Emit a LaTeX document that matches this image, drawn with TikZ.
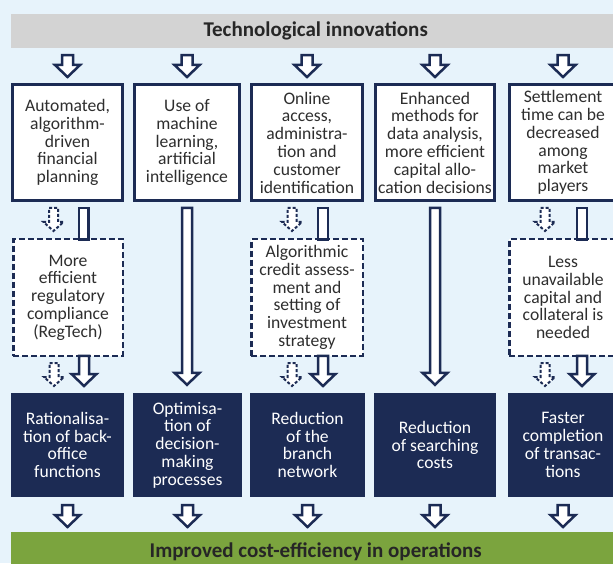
\documentclass[tikz,border=0pt]{standalone}
\usepackage{fontspec}
\setmainfont{Carlito}
\usetikzlibrary{calc}

\definecolor{bgblue}{HTML}{E7F3FB}
\definecolor{headgray}{HTML}{D3D3D3}
\definecolor{navy}{HTML}{1C2B54}
\definecolor{greenbar}{HTML}{7BA43E}
\definecolor{textgray}{HTML}{2E2E2E}

\newcommand\boxfont{\fontsize{17.6}{17.8}\selectfont}
\newcommand\barfont{\bfseries\fontsize{21}{22}\selectfont}

% block arrow: start, tip, half shaft, half head, head length
\newcommand\blockarr[6][hollow]{%
  \draw[#1] let \p1=(#2), \p2=(#3) in
    (\x1-#4pt,\y1) -- (\x1+#4pt,\y1) -- (\x1+#4pt,\y2+#6pt) -- (\x1+#5pt,\y2+#6pt)
    -- (\x1,\y2) -- (\x1-#5pt,\y2+#6pt) -- (\x1-#4pt,\y2+#6pt) -- cycle;}

\tikzset{
  whitebox/.style={draw=navy, line width=3pt, fill=white, align=center, text=textgray,
    font=\boxfont, inner xsep=0pt, minimum height=116pt},
  dashbox/.style={draw=navy, line width=2.5pt, dash pattern=on 6pt off 3pt, fill=white,
    align=center, text=textgray, font=\boxfont, inner xsep=0pt, minimum height=116.5pt},
  navybox/.style={fill=navy, text=white, align=center, font=\boxfont, inner xsep=0pt,
    minimum height=104pt},
  hollow/.style={draw=navy, line width=2.5pt, fill=white, line join=miter},
  dashhollow/.style={draw=navy, line width=2pt, dash pattern=on 3pt off 2pt, fill=white},
}

\begin{document}
\begin{tikzpicture}[x=1pt, y=1pt]
  \useasboundingbox (0,0) rectangle (613,563);
  \clip (0,0) rectangle (613,563);
  \fill[bgblue] (0,0) rectangle (613,563);

  % Header and footer bars
  \node[fill=headgray, minimum width=609pt, minimum height=34pt, anchor=west,
    font=\barfont, text=black!85] (tech) at (11,532)
    {Technological innovations};
  \node[fill=greenbar, minimum width=609pt, minimum height=40pt, anchor=north west,
    font=\barfont, text=black!85] (cost) at (11,31)
    {Improved cost-efficiency in operations};

  % Row 1: innovations
  \node[whitebox, minimum width=110pt] (top1) at (67.5,420.5)
    {Automated,\\algorithm-\\driven\\financial\\planning};
  \node[whitebox, minimum width=105pt] (top2) at (187,420.5)
    {Use of\\machine\\learning,\\artificial\\intelligence};
  \node[whitebox, minimum width=111pt] (top3) at (307,420.5)
    {Online\\access,\\administra-\\tion and\\customer\\identification};
  \node[whitebox, minimum width=119pt] (top4) at (435,420.5)
    {Enhanced\\methods for\\data analysis,\\more efficient\\capital allo-\\cation decisions};
  \node[whitebox, minimum width=107pt] (top5) at (563,420.5)
    {Settlement\\time can be\\decreased\\among\\market\\players};

  % Row 2: intermediate effects
  \node[dashbox, minimum width=109.5pt] (mid1) at (68,265.5)
    {More\\efficient\\regulatory\\compliance\\(RegTech)};
  \node[dashbox, minimum width=111.5pt] (mid3) at (307,265.5)
    {Algorithmic\\credit assess-\\ment and\\setting of\\investment\\strategy};
  \node[dashbox, minimum width=107.5pt] (mid5) at (563,265.5)
    {Less\\unavailable\\capital and\\collateral is\\needed};

  % Row 3: results
  \node[navybox, minimum width=113pt] (bot1) at (67.5,118)
    {Rationalisa-\\tion of back-\\office\\functions};
  \node[navybox, minimum width=109pt] (bot2) at (187.5,118)
    {Optimisa-\\tion of\\decision-\\making\\processes};
  \node[navybox, minimum width=115pt] (bot3) at (307.5,118)
    {Reduction\\of the\\branch\\network};
  \node[navybox, minimum width=122pt] (bot4) at (435,118)
    {Reduction\\of searching\\costs};
  \node[navybox, minimum width=110pt] (bot5) at (563,118)
    {Faster\\completion\\of transac-\\tions};

  % Arrows from the header
  \foreach \c in {1,...,5}{
    \blockarr{$(tech.south -| top\c)+(0,-7)$}{$(top\c.north)+(0,6)$}{5.5}{12.5}{12}
  }

  % Column 1
  \blockarr[dashhollow]{$(top1.south)+(-14,-6)$}{$(top1.south)+(-14,-29)$}{4.5}{10}{9}
  \draw[hollow] ($(top1.south)+(11.5,-6)$) rectangle ($(mid1.north)+(20.5,-1.5)$);
  \blockarr[dashhollow]{$(mid1.south)+(-14,-6)$}{$(mid1.south)+(-14,-29)$}{4.5}{10}{9}
  \blockarr{$(mid1.south)+(16,1.2)$}{$(mid1.south)+(16,-29)$}{5}{12.5}{12}

  % Column 2
  \blockarr{$(top2.south)+(0,-6)$}{$(bot2.north)+(0,8)$}{5}{12.5}{12}

  % Column 3
  \blockarr[dashhollow]{$(top3.south)+(-15,-6)$}{$(top3.south)+(-15,-29)$}{4.5}{10}{9}
  \draw[hollow] ($(top3.south)+(11,-6)$) rectangle ($(mid3.north)+(21,-1.5)$);
  \blockarr[dashhollow]{$(mid3.south)+(-15,-6)$}{$(mid3.south)+(-15,-29)$}{4.5}{10}{9}
  \blockarr{$(mid3.south)+(16,1.2)$}{$(mid3.south)+(16,-29)$}{5}{12.5}{12}

  % Column 4
  \blockarr{$(top4.south)+(0,-6)$}{$(bot4.north)+(0,8)$}{5}{12.5}{12}

  % Column 5
  \blockarr[dashhollow]{$(top5.south)+(-18,-6)$}{$(top5.south)+(-18,-29)$}{4.5}{10}{9}
  \draw[hollow] ($(top5.south)+(14,-6)$) rectangle ($(mid5.north)+(24,-1.5)$);
  \blockarr[dashhollow]{$(mid5.south)+(-18,-6)$}{$(mid5.south)+(-18,-29)$}{4.5}{10}{9}
  \blockarr{$(mid5.south)+(19,1.2)$}{$(mid5.south)+(19,-29)$}{5}{12.5}{12}

  % Arrows into the footer
  \foreach \c in {1,...,5}{
    \blockarr{$(bot\c.south)+(0,-8)$}{$(cost.north -| bot\c)+(0,5)$}{5.5}{12.5}{12}
  }
\end{tikzpicture}
\end{document}
